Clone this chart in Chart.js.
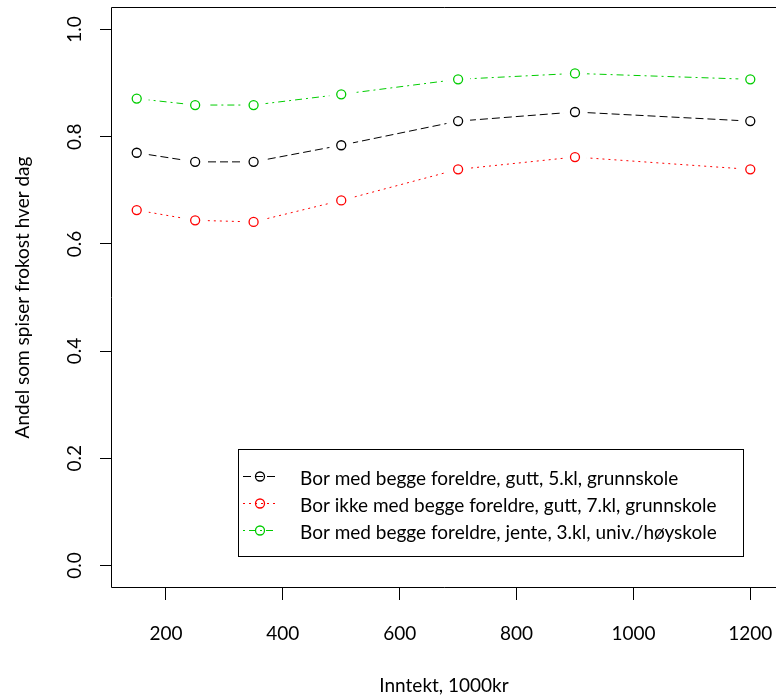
<!DOCTYPE html>
<html>
<head>
<meta charset="utf-8">
<script src="https://cdn.jsdelivr.net/npm/chart.js@4.4.1/dist/chart.umd.min.js"></script>
<style>
  body { margin: 0; background: #fff; }
</style>
</head>
<body>
<canvas id="frokost" width="776" height="698"></canvas>
<script>
// Inntekt (1000kr) og andel som spiser frokost hver dag
const inntekt = [150, 250, 350, 500, 700, 900, 1200];
const gutt5 = [0.770, 0.753, 0.753, 0.784, 0.829, 0.846, 0.829];
const gutt7 = [0.663, 0.644, 0.641, 0.681, 0.739, 0.762, 0.739];
const jente3 = [0.871, 0.859, 0.859, 0.879, 0.907, 0.918, 0.907];
const xTicks = [200, 400, 600, 800, 1000, 1200];
const yTicks = [0.0, 0.2, 0.4, 0.6, 0.8, 1.0];
const navn = [
    "Bor med begge foreldre, gutt, 5.kl, grunnskole",
    "Bor ikke med begge foreldre, gutt, 7.kl, grunnskole",
    "Bor med begge foreldre, jente, 3.kl, univ./høyskole"
];

const FONT = '19px Lato';
const farger = ['#000000', '#ff0000', '#00cd00'];
const strek = [[8, 4], [2, 4], [2, 4, 7, 4]];

function serie(verdier, i){
    return {
        label: navn[i],
        data: inntekt.map((x, j) => ({x: x, y: verdier[j]})),
        borderColor: farger[i],
        borderWidth: 1,
        borderDash: strek[i],
        pointRadius: 0,
        fill: false,
        tension: 0
    };
}

// tegner rammen, tekstene, tegnforklaringen og sirklene (type "b")
const rPlot = {
    id: 'rPlot',
    afterDatasetsDraw(chart){
        const ctx = chart.ctx;
        ctx.save();
        chart.data.datasets.forEach((ds, i) => {
            chart.getDatasetMeta(i).data.forEach(p => {
                ctx.fillStyle = '#fff';
                ctx.beginPath();
                ctx.arc(p.x, p.y, 12, 0, Math.PI * 2);
                ctx.fill();
                ctx.strokeStyle = ds.borderColor;
                ctx.lineWidth = 1.3;
                ctx.beginPath();
                ctx.arc(p.x, p.y, 4.5, 0, Math.PI * 2);
                ctx.stroke();
            });
        });
        ctx.restore();
    },
    afterDraw(chart){
        const ctx = chart.ctx;
        const a = chart.chartArea;
        const xs = chart.scales.x, ys = chart.scales.y;
        const l = Math.round(a.left) - 0.5, t = Math.round(a.top) - 0.5, b = Math.round(a.bottom) + 0.5;
        ctx.save();
        ctx.strokeStyle = '#000';
        ctx.lineWidth = 1;
        // rammen: høyre kant ligger utenfor lerretet
        ctx.beginPath();
        ctx.moveTo(chart.width + 2, t);
        ctx.lineTo(l, t);
        ctx.lineTo(l, b);
        ctx.lineTo(chart.width + 2, b);
        ctx.stroke();

        ctx.fillStyle = '#000';
        ctx.font = FONT;
        ctx.textAlign = 'center';
        ctx.textBaseline = 'middle';
        xTicks.forEach(v => ctx.fillText(String(v), xs.getPixelForValue(v), 634));
        yTicks.forEach(v => {
            ctx.save();
            ctx.translate(75, ys.getPixelForValue(v));
            ctx.rotate(-Math.PI / 2);
            ctx.fillText(v.toFixed(1), 0, 0);
            ctx.restore();
        });
        ctx.fillText('Inntekt, 1000kr', (a.left + a.right) / 2, 686);
        ctx.save();
        ctx.translate(23, (a.top + a.bottom) / 2);
        ctx.rotate(-Math.PI / 2);
        ctx.fillText('Andel som spiser frokost hver dag', 0, 0);
        ctx.restore();

        // tegnforklaring
        ctx.strokeRect(238.5, 449.5, 505, 107);
        const rader = [476, 503, 530];
        rader.forEach((y, i) => {
            ctx.strokeStyle = farger[i];
            ctx.setLineDash(strek[i]);
            ctx.beginPath();
            ctx.moveTo(243, y + 0.5);
            ctx.lineTo(276, y + 0.5);
            ctx.stroke();
            ctx.setLineDash([]);
            ctx.lineWidth = 1.3;
            ctx.beginPath();
            ctx.arc(260, y + 0.5, 4.5, 0, Math.PI * 2);
            ctx.stroke();
            ctx.lineWidth = 1;
            ctx.fillStyle = '#000';
            ctx.textAlign = 'left';
            ctx.fillText(navn[i], 300, y + 3);
        });
        ctx.restore();
    }
};

new Chart(document.getElementById('frokost'), {
    type: 'line',
    data: {
        datasets: [serie(gutt5, 0), serie(gutt7, 1), serie(jente3, 2)]
    },
    options: {
        responsive: false,
        animation: false,
        devicePixelRatio: 1,
        layout: { padding: { top: 8, left: 0, right: 0, bottom: 0 } },
        plugins: { legend: { display: false }, tooltip: { enabled: false } },
        scales: {
            x: {
                type: 'linear',
                min: 107.7,
                max: 1244,
                afterBuildTicks: s => { s.ticks = xTicks.map(v => ({value: v})); },
                afterFit: s => { s.height = 111; },
                grid: { drawOnChartArea: false, tickLength: 13, color: '#000' },
                border: { display: false },
                ticks: { display: false }
            },
            y: {
                min: -0.04,
                max: 1.04,
                afterBuildTicks: s => { s.ticks = yTicks.map(v => ({value: v})); },
                afterFit: s => { s.width = 112; },
                grid: { drawOnChartArea: false, tickLength: 12, color: '#000' },
                border: { display: false },
                ticks: { display: false }
            }
        }
    },
    plugins: [rPlot]
});
</script>
</body>
</html>
